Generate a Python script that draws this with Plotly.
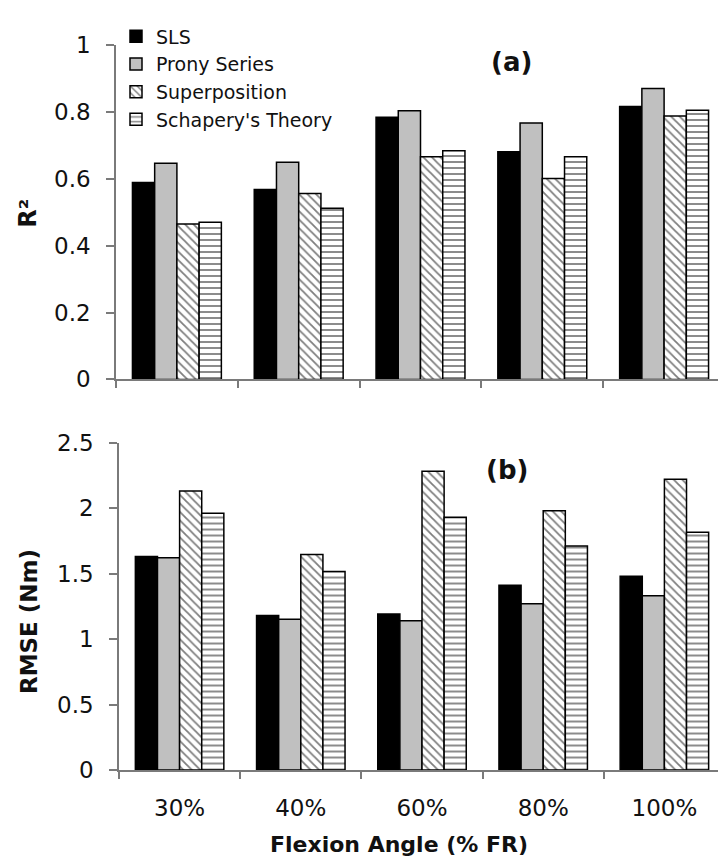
import plotly.graph_objects as go

# ---------------- data ----------------
categories = ["30%", "40%", "60%", "80%", "100%"]
series_names = ["SLS", "Prony Series", "Superposition", "Schapery's Theory"]

r2_sls = [0.589, 0.568, 0.784, 0.681, 0.816]
r2_prony = [0.646, 0.649, 0.803, 0.767, 0.870]
r2_superposition = [0.465, 0.556, 0.666, 0.601, 0.788]
r2_schapery = [0.470, 0.512, 0.684, 0.666, 0.805]

rmse_sls = [1.63, 1.18, 1.19, 1.41, 1.48]
rmse_prony = [1.62, 1.15, 1.14, 1.27, 1.33]
rmse_superposition = [2.13, 1.645, 2.28, 1.98, 2.22]
rmse_schapery = [1.96, 1.515, 1.93, 1.71, 1.815]

r2_ticks = [0, 0.2, 0.4, 0.6, 0.8, 1]
rmse_ticks = [0, 0.5, 1, 1.5, 2, 2.5]

# ---------------- styles ----------------
FONT = "DejaVu Sans"
TXT = "#111111"
AXC = "#7a7a7a"
fills = ["#000000", "#c0c0c0", "#ffffff", "#ffffff"]
patterns = ["", "", "\\", "-"]

r2_series = [r2_sls, r2_prony, r2_superposition, r2_schapery]
rmse_series = [rmse_sls, rmse_prony, rmse_superposition, rmse_schapery]

fig = go.Figure()


def add_bars(values_list, xa, ya, show):
    for name, vals, fc, pat in zip(series_names, values_list, fills, patterns):
        marker = dict(color=fc, line=dict(color="#000000", width=1.5))
        if pat:
            marker["pattern"] = dict(shape=pat, fgcolor="#000000", bgcolor="#ffffff",
                                     size=6, solidity=0.3)
        fig.add_trace(go.Bar(x=categories, y=vals, name=name, marker=marker,
                             xaxis=xa, yaxis=ya, showlegend=show,
                             legendgroup=name))


add_bars(r2_series, "x", "y", True)
add_bars(rmse_series, "x2", "y2", False)

W, H = 726, 858
ml, mr, mt, mb = 108, 9, 27, 96
pw = W - ml - mr
ph = H - mt - mb


def px_x(p):
    return (p - ml) / pw


def px_y(p):
    return (H - mb - p) / ph


axis_common = dict(showline=True, linecolor=AXC, linewidth=1.5, showgrid=False,
                   zeroline=False, ticks="outside", tickcolor=AXC, tickwidth=1.5)

fig.update_layout(
    width=W, height=H,
    margin=dict(l=ml, r=mr, t=mt, b=mb),
    paper_bgcolor="white", plot_bgcolor="white",
    barmode="group", bargap=0.27, bargroupgap=0,
    font=dict(family=FONT, color=TXT),
    xaxis=dict(domain=[0, 1], anchor="y", type="category",
               categoryorder="array", categoryarray=categories,
               tickson="boundaries", ticklen=7, showticklabels=False,
               **axis_common),
    yaxis=dict(domain=[px_y(366), 1], anchor="x", range=[0, 1],
               tickvals=r2_ticks, ticklen=8, ticklabelstandoff=11,
               tickfont=dict(family=FONT, size=23, color=TXT), **axis_common),
    xaxis2=dict(domain=[px_x(111), 1], anchor="y2", type="category",
                categoryorder="array", categoryarray=categories,
                tickson="boundaries", ticklen=7, ticklabelstandoff=17,
                tickfont=dict(family=FONT, size=23, color=TXT), **axis_common),
    yaxis2=dict(domain=[0, px_y(430)], anchor="x2", range=[0, 2.5],
                tickvals=rmse_ticks, ticklen=8, ticklabelstandoff=11,
                tickfont=dict(family=FONT, size=23, color=TXT), **axis_common),
    legend=dict(x=px_x(108), xanchor="left", y=px_y(-1), yanchor="top",
                font=dict(family=FONT, size=19, color=TXT),
                bgcolor="rgba(0,0,0,0)", tracegroupgap=0, traceorder="normal"),
)

annotations = [
    dict(text="<b>(a)</b>", x=px_x(503), y=px_y(44), font=dict(size=26)),
    dict(text="<b>(b)</b>", x=px_x(499), y=px_y(458), font=dict(size=26)),
    dict(text="<b>Flexion Angle (% FR)</b>", x=px_x(391), y=px_y(838), font=dict(size=22)),
    dict(text="<b>R²</b>", x=px_x(20), y=px_y(198), textangle=-90, font=dict(size=24)),
    dict(text="<b>RMSE (Nm)</b>", x=px_x(21), y=px_y(612), textangle=-90, font=dict(size=23)),
]
for a in annotations:
    a.update(xref="paper", yref="paper", showarrow=False,
             xanchor="center", yanchor="middle")
    a["font"].update(family=FONT, color=TXT)
fig.update_layout(annotations=annotations)

fig.write_html("out.html")
